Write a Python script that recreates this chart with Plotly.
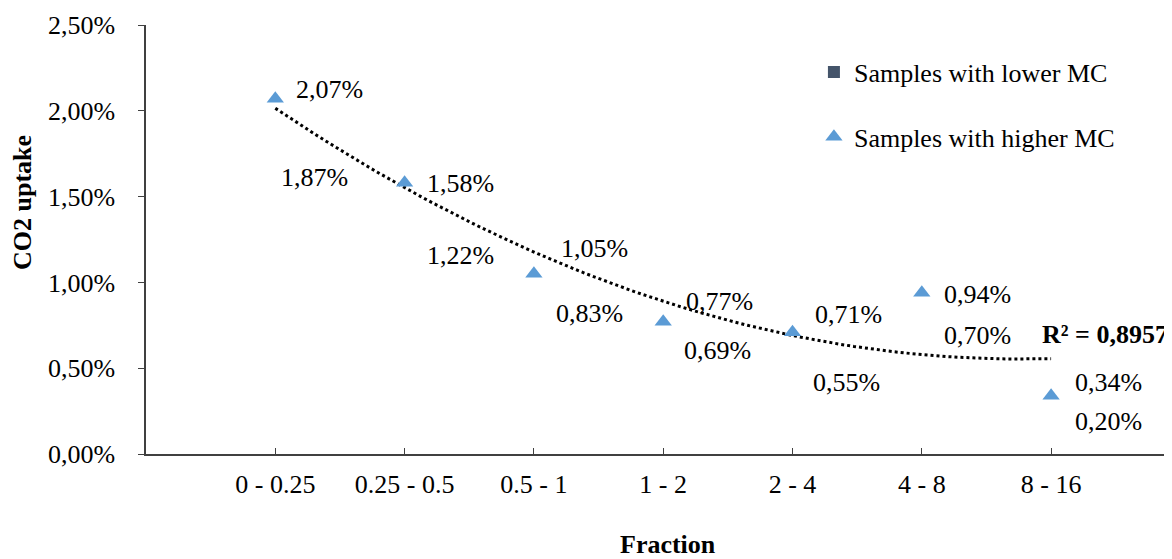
import numpy as np
import plotly.graph_objects as go

# Data
fractions = ["0 - 0.25", "0.25 - 0.5", "0.5 - 1", "1 - 2", "2 - 4", "4 - 8", "8 - 16"]
x_pos = [1, 2, 3, 4, 5, 6, 7]
lower_mc = [1.87, 1.22, 0.83, 0.69, 0.55, 0.70, 0.20]
higher_mc = [2.07, 1.58, 1.05, 0.77, 0.71, 0.94, 0.34]
r2_text = "R² = 0,8957"  # as printed on the original trendline

# label offsets (px) as they sit in the original
higher_dx = [54, 56, 61, 56, 56, 56, 57]
higher_dy = [9, -1, 25, 20, 18, -2, 13]
lower_dx = [39, 56, 56, 54, 54, 56, 57]
lower_dy = [-44, -11, -2, -15, -23, -2, -2]

font = "Liberation Serif, Times New Roman, serif"
fs = 26

def pct(v):
    return f"{v:.2f}".replace(".", ",") + "%"

# 2nd order polynomial trend on higher MC
coef = np.polyfit(x_pos, higher_mc, 2)
fit = np.poly1d(coef)
tx = np.linspace(1, 7, 60)

fig = go.Figure()

fig.add_trace(go.Scatter(
    x=tx, y=fit(tx), mode="lines",
    line=dict(color="black", width=3, dash="dot"),
    showlegend=False, hoverinfo="skip"))

# lower MC: markers not drawn in the chart, legend entry only
fig.add_trace(go.Scatter(
    x=x_pos, y=lower_mc, mode="markers",
    marker=dict(symbol="square", size=11, color="#44546A", opacity=0),
    showlegend=False))
fig.add_trace(go.Scatter(
    x=[None], y=[None], mode="markers", name="Samples with lower MC",
    marker=dict(symbol="square", size=12, color="#44546A"),
    legendgroup="a"))

fig.add_trace(go.Scatter(
    x=x_pos, y=higher_mc, mode="markers", name="Samples with higher MC",
    marker=dict(symbol="triangle-up", size=15, color="#5B9BD5"),
    legendgroup="b"))

annotations = []
for x, v, dx, dy in zip(x_pos, higher_mc, higher_dx, higher_dy):
    annotations.append(dict(x=x, y=v, text=pct(v), showarrow=False,
                            xshift=dx, yshift=dy, font=dict(size=fs)))
for x, v, dx, dy in zip(x_pos, lower_mc, lower_dx, lower_dy):
    annotations.append(dict(x=x, y=v, text=pct(v), showarrow=False,
                            xshift=dx, yshift=dy, font=dict(size=fs)))

annotations.append(dict(x=7, y=fit(7), text=f"<b>{r2_text}</b>",
                        showarrow=False, xanchor="left", xshift=-11, yshift=24,
                        font=dict(size=fs)))
annotations.append(dict(xref="paper", yref="paper", x=(668 - 146) / 1026, y=-(544 - 454) / 429,
                        text="<b>Fraction</b>", showarrow=False,
                        yanchor="middle", font=dict(size=fs)))
annotations.append(dict(xref="paper", yref="paper", x=(22 - 146) / 1026, y=(454 - 203) / 429,
                        text="<b>CO2 uptake</b>", showarrow=False, textangle=-90,
                        xanchor="center", yanchor="middle", font=dict(size=fs)))

# page body has an 8px margin, so the figure is a bit smaller and shifted
fig.update_layout(
    width=1164, height=551,
    margin=dict(l=138, r=0, t=17, b=105),
    plot_bgcolor="white", paper_bgcolor="white",
    font=dict(family=font, size=fs, color="black"),
    separators=",.",
    annotations=annotations,
    legend=dict(x=0.651, y=0.945, xanchor="left", yanchor="top",
                font=dict(size=fs), tracegroupgap=28, traceorder="grouped",
                itemwidth=30, bgcolor="rgba(0,0,0,0)"),
)

fig.update_xaxes(
    range=[0, 7.935], tickvals=x_pos, ticktext=fractions,
    showgrid=False, zeroline=False, automargin=False,
    showline=True, linecolor="#404040", linewidth=1.5,
    ticks="inside", ticklen=6, tickcolor="#404040",
    ticklabelstandoff=6,
)

fig.update_yaxes(
    range=[0, 2.5], dtick=0.5, tickformat=".2f", ticksuffix="%",
    showgrid=False, zeroline=False, automargin=False,
    showline=True, linecolor="#404040", linewidth=1.5,
    ticks="outside", ticklen=6, tickcolor="#404040",
    ticklabelstandoff=18,
)

fig.write_html("out.html")
